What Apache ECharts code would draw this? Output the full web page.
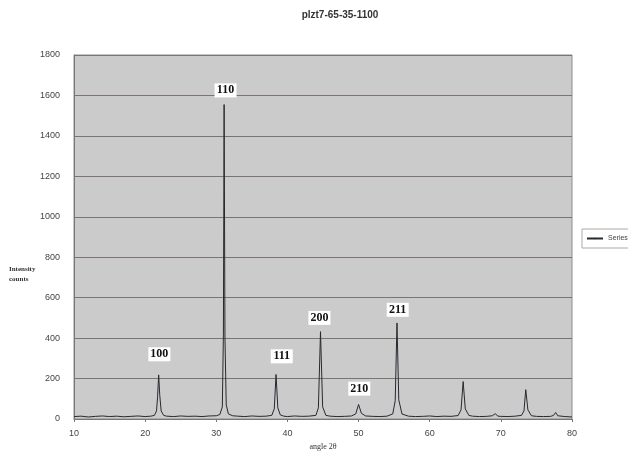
<!DOCTYPE html>
<html>
<head>
<meta charset="utf-8">
<script src="https://cdn.jsdelivr.net/npm/echarts@6/dist/echarts.min.js"></script>
<style>
  html, body { margin: 0; padding: 0; background: #fff; }
  #chart { width: 628px; height: 459px; }
</style>
</head>
<body>
<div id="chart"></div>
<script>
// XRD scan: 2theta (deg) and intensity (counts)
const angles = [10, 11, 12, 13, 14, 15, 16, 17, 18, 19, 20, 20.8, 21.3, 21.6, 21.75, 21.9, 22.05, 22.25, 22.6, 23,
  24, 25, 26, 27, 28, 29, 30, 30.5, 30.85, 31.0, 31.1, 31.22, 31.4, 31.7, 32.3,
  33, 34, 35, 36, 37, 37.8, 38.15, 38.4, 38.65, 39, 39.5,
  40, 41, 42, 43, 44, 44.35, 44.65, 44.95, 45.4, 46, 47, 48, 49, 49.6, 50.0, 50.4, 51,
  52, 53, 54, 54.8, 55.15, 55.4, 55.65, 56.1, 57, 58, 59, 60, 61, 62, 63, 64, 64.4, 64.7, 65.0, 65.5,
  66, 67, 68, 68.8, 69.2, 69.6, 70, 71, 72, 72.9, 73.25, 73.5, 73.8, 74.3, 75, 76, 77, 77.4, 77.7, 78, 79, 80];
const counts = [12, 14, 10, 13, 15, 12, 14, 11, 13, 15, 12, 14, 18, 40, 110, 218, 120, 40, 18, 14,
  12, 15, 13, 14, 12, 15, 16, 22, 60, 420, 1555, 400, 70, 25, 16,
  14, 12, 15, 13, 14, 18, 50, 220, 55, 20, 14,
  12, 15, 13, 14, 18, 55, 432, 60, 18, 14, 12, 13, 15, 25, 72, 28, 15,
  13, 12, 14, 25, 90, 475, 95, 25, 14, 12, 13, 15, 12, 14, 13, 17, 45, 185, 50, 18,
  14, 12, 13, 16, 26, 14, 13, 12, 14, 18, 40, 145, 45, 16, 13, 12, 13, 18, 32, 16, 12, 10];

// peak indexing labels and where they sit
const peakNames = ['100', '110', '111', '200', '210', '211'];
const peakLabelX = [22.0, 31.3, 39.2, 44.5, 50.1, 55.5];
const peakLabelY = [320, 1625, 310, 500, 150, 540];

const yTicks = [0, 200, 400, 600, 800, 1000, 1200, 1400, 1600, 1800];
const xTicks = [10, 20, 30, 40, 50, 60, 70, 80];

const chart = echarts.init(document.getElementById('chart'));

const lineData = angles.map((a, i) => [a, counts[i]]);
const marks = peakNames.map((n, i) => ({
  coord: [peakLabelX[i], peakLabelY[i]],
  value: n
}));

chart.setOption({
  animation: false,
  backgroundColor: '#fff',
  title: {
    text: 'plzt7-65-35-1100',
    left: 335,
    top: 5,
    textAlign: 'center',
    textStyle: { fontFamily: 'Liberation Sans', fontSize: 10, fontWeight: 'bold', color: '#333' }
  },
  legend: {
    data: ['Series1'],
    left: 582,
    top: 229,
    orient: 'vertical',
    itemWidth: 16,
    itemHeight: 2,
    itemGap: 4,
    padding: [6, 10, 6, 4],
    borderColor: '#b0a8a8',
    borderWidth: 1,
    textStyle: { fontFamily: 'Liberation Sans', fontSize: 7, color: '#444' }
  },
  grid: {
    left: 74,
    right: 56,
    top: 55,
    bottom: 40,
    show: true,
    backgroundColor: '#cbcbcb',
    borderColor: '#8c8c8c',
    borderWidth: 1
  },
  xAxis: {
    type: 'value',
    min: 10,
    max: 80,
    interval: 10,
    name: 'angle 2θ',
    nameLocation: 'middle',
    nameGap: 23,
    nameTextStyle: { fontFamily: 'Liberation Serif', fontSize: 8, color: '#333' },
    axisLine: { lineStyle: { color: '#777' } },
    axisTick: { show: true, length: 3, lineStyle: { color: '#777' } },
    axisLabel: {
      fontFamily: 'Liberation Sans', fontSize: 9, color: '#444', margin: 10,
      formatter: v => xTicks.includes(v) ? String(v) : ''
    },
    splitLine: { show: false }
  },
  yAxis: {
    type: 'value',
    min: 0,
    max: 1800,
    interval: 200,
    axisLine: { show: true, lineStyle: { color: '#777' } },
    axisTick: { show: false },
    axisLabel: {
      fontFamily: 'Liberation Sans', fontSize: 9, color: '#444', margin: 14,
      formatter: v => yTicks.includes(v) ? String(v) : ''
    },
    splitLine: { show: true, lineStyle: { color: '#7d7370', width: 1 } }
  },
  graphic: [{
    type: 'text',
    left: 9,
    top: 264,
    style: {
      text: 'Intensity\ncounts',
      font: 'bold 7px "Liberation Serif"',
      fill: '#333',
      lineHeight: 10,
      align: 'center'
    }
  }],
  series: [{
    name: 'Series1',
    type: 'line',
    data: lineData,
    symbol: 'none',
    lineStyle: { color: '#262a30', width: 1 },
    itemStyle: { color: '#262a30' },
    markPoint: {
      symbol: 'rect',
      symbolSize: [22, 14],
      itemStyle: { color: '#ffffff' },
      label: {
        show: true,
        formatter: p => p.value,
        fontFamily: 'Liberation Serif',
        fontWeight: 'bold',
        fontSize: 12,
        color: '#111'
      },
      data: marks
    }
  }]
});
</script>
</body>
</html>
